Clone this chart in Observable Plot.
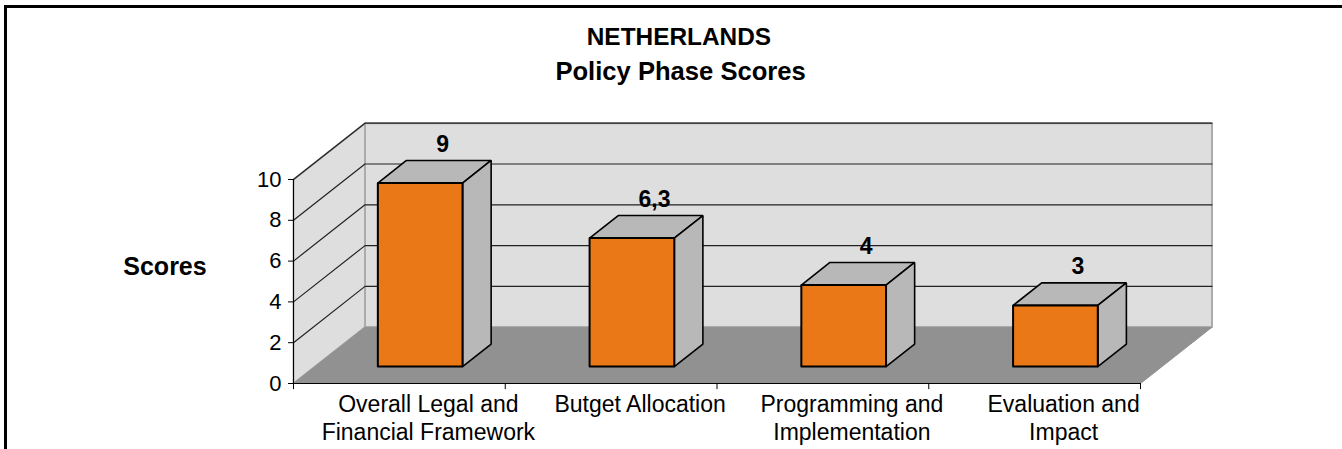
<!DOCTYPE html>
<html><head><meta charset="utf-8">
<script src="https://cdn.jsdelivr.net/npm/d3@7"></script>
<script src="https://cdn.jsdelivr.net/npm/@observablehq/plot@0.6"></script>
<style>
html,body{margin:0;padding:0;background:#fff;overflow:hidden}
#chart{position:relative;width:1342px;height:449px}
#chart svg{position:absolute;left:0;top:0;font-family:"Liberation Sans",Arial,sans-serif}
#frame{position:absolute;left:4px;top:5px;right:0;bottom:0;border-top:3px solid #000;border-left:3px solid #000;box-sizing:border-box}
</style></head><body>
<div id="chart"><div id="frame"></div></div>
<script>
const categories = ["Overall Legal and\nFinancial Framework","Butget Allocation","Programming and\nImplementation","Evaluation and\nImpact"];
const scores = [9,6.3,4,3];
const scoreLabels = ["9","6,3","4","3"];
const gridValues = [2,4,6,8,10];
const axisTicks = [0,2,4,6,8,10];
const categoryEdges = [0,1,2,3,4];
const titleLine1 = "NETHERLANDS";
const titleLine2 = "Policy Phase Scores";
const yLabel = "Scores";

// oblique projection of the 3D box, in scale units
const X = 71.5/211.75, Y = 56.3/20.4;
const pt = (c,v,d)=>({x:c+d*X, y:v+d*Y});

const wall = [pt(0,0,1),pt(4,0,1),pt(4,10,1),pt(0,10,1)];
const side = [pt(0,0,0),pt(0,0,1),pt(0,10,1),pt(0,10,0)];
const floor = [pt(0,0,0),pt(4,0,0),pt(4,0,1),pt(0,0,1)];
const grid = gridValues.map(v=>[pt(0,v,0),pt(0,v,1),pt(4,v,1)]);

const barW = 0.4, d0=0.3, d1=0.7;
const faces = scores.map((v,i)=>{
  const a=i+0.497-barW/2, b=i+0.497+barW/2;
  return {
    top: [pt(a,v,d0),pt(b,v,d0),pt(b,v,d1),pt(a,v,d1)],
    right: [pt(b,0,d0),pt(b,v,d0),pt(b,v,d1),pt(b,0,d1)],
    front: [pt(a,0,d0),pt(b,0,d0),pt(b,v,d0),pt(a,v,d0)]
  };
});
const closed = a=>[...a,a[0]];
const plane = (data,fill,stroke,sw)=>Plot.line(closed(data),{x:"x",y:"y",fill,stroke,strokeWidth:sw,curve:"linear",strokeLinejoin:"miter"});

const marks = [
  plane(wall,"#dedede","#ababab",2),
  plane(side,"#dedede","#ababab",2),
  plane(floor,"#919191","#919191",1),
  ...grid.map(g=>Plot.line(g,{x:"x",y:"y",stroke:"#222",strokeWidth:1.2,curve:"linear"})),
  ...faces.flatMap(f=>[
    plane(f.top,"#b8b8b8","#000",1.6),
    plane(f.right,"#b8b8b8","#000",1.6),
    plane(f.front,"#ea7817","#000",2)
  ]),
  Plot.ruleX([0],{y1:0,y2:10,stroke:"#000",strokeWidth:1}),
  Plot.ruleY([0],{x1:0,x2:4,stroke:"#000",strokeWidth:1.2}),
  Plot.axisY({ticks:axisTicks,tickSize:5,tickPadding:7,fontSize:22,label:null,tickFormat:d=>d,stroke:"#000",color:"#000"}),
  Plot.ruleX(categoryEdges,{x:d=>d,y1:0,y2:-0.3,stroke:"#000"}),
  Plot.text(categories,{x:(d,i)=>i+0.5,y:0,dx:29,dy:8.4,text:d=>d,fontSize:23,lineHeight:1.217,lineAnchor:"top",textAnchor:"middle",fill:"#000"}),
  Plot.text(scoreLabels,{x:(d,i)=>pt(i+0.5,scores[i],0.7).x-0.15*X,y:(d,i)=>pt(i+0.5,scores[i],0.7).y,dx:4,dy:-16,text:d=>d,fontSize:23,fontWeight:"bold",fill:"#000"}),
  Plot.text([yLabel],{x:-0.607,y:5.7,text:d=>d,fontSize:25,fontWeight:"bold",fill:"#000"}),
  Plot.text([titleLine1],{x:1.82,y:17,text:d=>d,fontSize:24.4,fontWeight:"bold",fill:"#000"}),
  Plot.text([titleLine2],{x:1.828,y:15.28,text:d=>d,fontSize:25.6,fontWeight:"bold",fill:"#000"})
];

const chart = Plot.plot({
  width:1342,height:449,
  marginLeft:293,marginRight:202,marginTop:179,marginBottom:66,
  style:{background:"transparent",fontFamily:'"Liberation Sans",Arial,sans-serif',overflow:"visible"},
  x:{type:"linear",domain:[0,4],range:[293,1140],axis:null},
  y:{type:"linear",domain:[0,10],range:[383,179],axis:null},
  marks
});
document.getElementById("chart").appendChild(chart);
</script>
</body></html>
